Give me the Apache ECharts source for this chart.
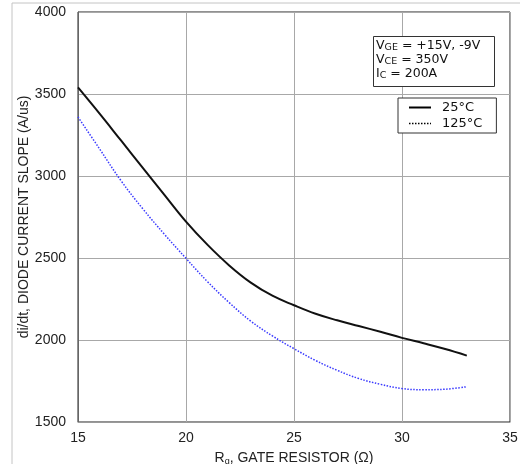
<!DOCTYPE html>
<html>
<head>
<meta charset="utf-8">
<script src="https://cdn.jsdelivr.net/npm/echarts@6/dist/echarts.min.js"></script>
<style>html,body{margin:0;padding:0;background:#fff}#c{width:520px;height:464px}</style>
</head>
<body>
<div id="c"></div>
<script>
const xTicks = [15, 20, 25, 30, 35];
const yTicks = [1500, 2000, 2500, 3000, 3500, 4000];
const rg = [15, 16, 17, 18, 19, 20, 21, 22, 23, 24, 25, 26, 27, 28, 29, 30, 31, 32, 33];
const slope25 = [3540, 3380, 3215, 3050, 2885, 2722, 2580, 2455, 2350, 2270, 2212, 2160, 2120, 2085, 2050, 2013, 1980, 1945, 1905];
const slope125 = [3360, 3165, 2970, 2800, 2645, 2498, 2355, 2228, 2115, 2025, 1947, 1875, 1815, 1765, 1730, 1704, 1697, 1700, 1715];
const seriesNames = ['25°C', '125°C'];
const conditions = ['V{s|GE} = +15V, -9V', 'V{s|CE} = 350V', 'I{s|C} = 200A'];

const font = 'Liberation Sans, Arial, sans-serif';
const boxFont = 'DejaVu Sans, sans-serif';
const chart = echarts.init(document.getElementById('c'), null, {renderer: 'canvas'});
chart.setOption({
  animation: false,
  backgroundColor: '#fff',
  grid: {left: 78, top: 12, width: 432, height: 410, show: true, borderColor: '#222', borderWidth: 1,
         containLabel: false, outerBoundsMode: 'none'},
  xAxis: {
    type: 'value', min: xTicks[0], max: xTicks[xTicks.length - 1], interval: 5,
    axisLine: {show: true, lineStyle: {color: '#999', width: 1}},
    axisTick: {show: false},
    axisLabel: {color: '#222', fontSize: 14, fontFamily: font, margin: 9, formatter: v => String(v)},
    splitLine: {show: true, lineStyle: {color: '#a8a8a8', width: 1}},
    name: 'R{s|g}, GATE RESISTOR (Ω)', nameLocation: 'middle', nameGap: 28, nameMoveOverlap: false,
    nameTextStyle: {color: '#222', fontSize: 14, fontFamily: font,
      rich: {s: {fontSize: 9, fontFamily: font, color: '#222', verticalAlign: 'bottom', padding: [7, 0, 0, 0]}}}
  },
  yAxis: {
    type: 'value', min: yTicks[0], max: yTicks[yTicks.length - 1], interval: 500,
    axisLine: {show: true, lineStyle: {color: '#666', width: 1}},
    axisTick: {show: false},
    axisLabel: {color: '#222', fontSize: 14, fontFamily: font, margin: 12, formatter: v => String(v)},
    splitLine: {show: true, lineStyle: {color: '#a8a8a8', width: 1}},
    name: 'di/dt, DIODE CURRENT SLOPE (A/us)', nameLocation: 'middle', nameGap: 47, nameMoveOverlap: false,
    nameTextStyle: {color: '#222', fontSize: 14, fontFamily: font}
  },
  legend: {
    show: true, orient: 'vertical', left: 398, top: 98,
    padding: [3, 14, 3, 10], itemGap: 3, itemWidth: 22, itemHeight: 12,
    backgroundColor: '#fff', borderColor: '#333', borderWidth: 1,
    textStyle: {color: '#111', fontSize: 13, fontFamily: boxFont, padding: [0, 0, 0, 6]},
    data: [
      {name: seriesNames[0], itemStyle: {color: 'rgba(0,0,0,0)', borderWidth: 0}, lineStyle: {color: '#000', width: 2}},
      {name: seriesNames[1], itemStyle: {color: 'rgba(0,0,0,0)', borderWidth: 0}, lineStyle: {color: '#000', width: 1.5, type: 'dotted'}}
    ]
  },
  graphic: [
    {type: 'line', shape: {x1: 12, y1: 3, x2: 520, y2: 3}, style: {stroke: '#c4c4c4', lineWidth: 1}, z: 0},
    {type: 'line', shape: {x1: 12, y1: 3, x2: 12, y2: 464}, style: {stroke: '#c4c4c4', lineWidth: 1}, z: 0},
    {type: 'rect', shape: {x: 373.5, y: 36.5, width: 121, height: 50}, style: {fill: '#fff', stroke: '#333', lineWidth: 1}, z: 10},
    {type: 'text', x: 376, y: 39, z: 11, style: {
      text: conditions.join('\n'), fill: '#111', font: '12.5px ' + boxFont, lineHeight: 14,
      rich: {s: {fontSize: 9.5, fontFamily: boxFont, fill: '#111', verticalAlign: 'bottom'}}
    }}
  ],
  series: [
    {name: seriesNames[0], type: 'line', data: rg.map((x, i) => [x, slope25[i]]), smooth: 0.4,
     symbol: 'none', lineStyle: {color: '#111', width: 2}, itemStyle: {color: '#111'}, z: 3},
    {name: seriesNames[1], type: 'line', data: rg.map((x, i) => [x, slope125[i]]), smooth: 0.4,
     symbol: 'none', lineStyle: {color: '#3a3aff', width: 1.5, type: [1.5, 1.5]}, itemStyle: {color: '#3a3aff'}, z: 3}
  ]
});
</script>
</body>
</html>
